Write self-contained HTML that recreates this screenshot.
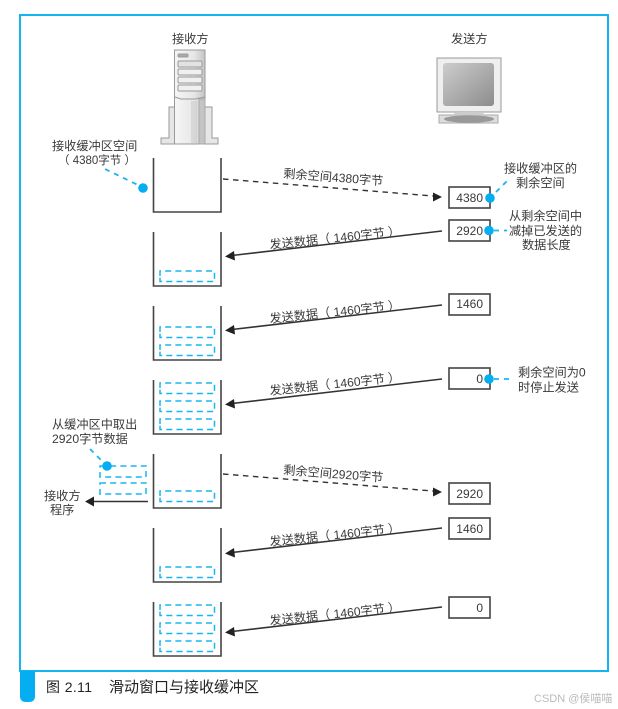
<!DOCTYPE html>
<html><head><meta charset="utf-8"><style>
html,body{margin:0;padding:0;background:#fff;width:618px;height:709px;overflow:hidden}
svg{display:block}
text{font-family:"Liberation Sans","Noto Sans CJK SC",sans-serif;fill:#3a3a3a;font-size:12.2px}
</style></head><body>
<svg width="618" height="709" viewBox="0 0 618 709" xmlns="http://www.w3.org/2000/svg">
<defs>
<linearGradient id="sg" x1="0" y1="0" x2="1" y2="1"><stop offset="0" stop-color="#cdcdcd"/><stop offset="1" stop-color="#8c8c8c"/></linearGradient>
<linearGradient id="tw" x1="0" y1="0" x2="1" y2="0"><stop offset="0" stop-color="#f6f6f6"/><stop offset=".65" stop-color="#e6e6e6"/><stop offset="1" stop-color="#c4c4c4"/></linearGradient>
<g id="bk"><path d="M153.500 0V54H221V0" fill="none" stroke="#444" stroke-width="1.600"/></g>
<g id="d1"><path d="M160 44V39H214.500V49.500H160V44" fill="none" stroke="#19b5f1" stroke-width="1.500" stroke-dasharray="6 4.200"/></g>
<g id="d2"><use href="#d1"/><path d="M160 26V21H214.500V31.500H160V26" fill="none" stroke="#19b5f1" stroke-width="1.500" stroke-dasharray="6 4.200"/></g>
<g id="d3"><use href="#d2"/><path d="M160 8V3H214.500V13.500H160V8" fill="none" stroke="#19b5f1" stroke-width="1.500" stroke-dasharray="6 4.200"/></g>
<g id="box"><rect x="449" y="0" width="41" height="21" fill="#fff" stroke="#444" stroke-width="1.600"/></g>
</defs>

<!-- frame -->
<rect x="20" y="15" width="588" height="656" fill="#fff" stroke="#14b4f0" stroke-width="2"/>
<path d="M20 671H35V696Q35 702 29 702H26Q20 702 20 696Z" fill="#05aef0"/>
<text x="46" y="692" style="font-size:14px;fill:#222;letter-spacing:.4px">图 2.11</text>
<text x="109" y="692" style="font-size:15px;fill:#222">滑动窗口与接收缓冲区</text>
<text x="534" y="702" style="font-size:11px;fill:#bbb">CSDN @侯喵喵</text>

<!-- titles -->
<text x="172" y="43">接收方</text>
<text x="451" y="43">发送方</text>

<!-- server -->
<g stroke="#999" stroke-width="1">
<path d="M169 107H175V144H161V138H169Z" fill="#e6e6e6"/>
<path d="M212 107H205V144H218V138H212Z" fill="#e6e6e6"/>
<rect x="174.500" y="50" width="30.500" height="94" fill="url(#tw)"/>
<path d="M175 97L181 99H195L205 97" fill="none"/>
<rect x="178" y="61" width="24" height="6" rx="1" fill="#e2e2e2"/>
<rect x="178" y="69" width="24" height="6" rx="1" fill="#f0f0f0"/>
<rect x="178" y="77" width="24" height="6" rx="1" fill="#f0f0f0"/>
<rect x="178" y="85" width="24" height="6" rx="1" fill="#f0f0f0"/>
<rect x="178" y="54" width="10" height="3" rx="1" fill="#aaa"/>
<path d="M192 101V144M194 101V144M196 101V144" stroke="#bbb" stroke-width=".7"/>
<rect x="199" y="99" width="6" height="45" fill="#c4c4c4" stroke="#aaa"/>
</g>
<!-- monitor -->
<rect x="437" y="58" width="64" height="54" fill="#efefef" stroke="#999"/>
<rect x="443" y="63" width="51" height="43" rx="3" fill="url(#sg)"/>
<rect x="439" y="115" width="59" height="8" fill="#ddd" stroke="#aaa"/>
<path d="M455 112H483L486 118H452Z" fill="#ccc"/>
<ellipse cx="469" cy="119" rx="25" ry="3.800" fill="#999"/>

<!-- buckets -->
<use href="#bk" y="158"/>
<use href="#bk" y="232"/><use href="#d1" y="232"/>
<use href="#bk" y="306"/><use href="#d2" y="306"/>
<use href="#bk" y="380"/><use href="#d3" y="380"/>
<use href="#bk" y="454"/><use href="#d1" y="452"/>
<use href="#bk" y="528"/><use href="#d1" y="528"/>
<use href="#bk" y="602"/><use href="#d3" y="602"/>

<!-- boxes -->
<use href="#box" y="187"/><use href="#box" y="220"/><use href="#box" y="294"/><use href="#box" y="368"/>
<use href="#box" y="483"/><use href="#box" y="518"/><use href="#box" y="597"/>
<text x="483" y="202" text-anchor="end" style="font-size:12px">4380</text>
<text x="483" y="235" text-anchor="end" style="font-size:12px">2920</text>
<text x="483" y="308" text-anchor="end" style="font-size:12px">1460</text>
<text x="483" y="383" text-anchor="end" style="font-size:12px">0</text>
<text x="483" y="498" text-anchor="end" style="font-size:12px">2920</text>
<text x="483" y="533" text-anchor="end" style="font-size:12px">1460</text>
<text x="483" y="612" text-anchor="end" style="font-size:12px">0</text>

<!-- dashed arrows -->
<g fill="none" stroke="#333" stroke-width="1.400" stroke-dasharray="5.500 4.500">
<line x1="223" y1="179" x2="433" y2="196"/>
<line x1="223" y1="474" x2="433" y2="491"/>
</g>
<path d="M442 197L433 192.500V201.500Z" fill="#222"/>
<path d="M442 492L433 487.500V496.500Z" fill="#222"/>
<text transform="translate(283 177.500) rotate(4.500)">剩余空间4380字节</text>
<text transform="translate(283 474) rotate(4.500)">剩余空间2920字节</text>

<!-- solid arrows -->
<g fill="none" stroke="#333" stroke-width="1.500">
<line x1="232" y1="255.500" x2="442" y2="231"/>
<line x1="232" y1="329.500" x2="442" y2="305"/>
<line x1="232" y1="403.500" x2="442" y2="379"/>
<line x1="232" y1="552.500" x2="442" y2="528"/>
<line x1="232" y1="631.500" x2="442" y2="607"/>
<line x1="91" y1="501.500" x2="148" y2="501.500"/>
</g>
<g fill="#222">
<path d="M225 256.500L234 251L235 260.500Z"/>
<path d="M225 330.500L234 325L235 334.500Z"/>
<path d="M225 404.500L234 399L235 408.500Z"/>
<path d="M225 553.500L234 548L235 557.500Z"/>
<path d="M225 632.500L234 627L235 636.500Z"/>
<path d="M85 501.500L94 496.500V506.500Z"/>
</g>
<text transform="translate(270 249) rotate(-6)">发送数据（ 1460字节 ）</text>
<text transform="translate(270 323) rotate(-6)">发送数据（ 1460字节 ）</text>
<text transform="translate(270 395) rotate(-6)">发送数据（ 1460字节 ）</text>
<text transform="translate(270 546) rotate(-6)">发送数据（ 1460字节 ）</text>
<text transform="translate(270 625) rotate(-6)">发送数据（ 1460字节 ）</text>

<!-- side buffer -->
<g fill="none" stroke="#19b5f1" stroke-width="1.500" stroke-dasharray="6 4.200">
<rect x="100" y="466" width="46" height="11"/>
<rect x="100" y="483" width="46" height="11"/>
</g>

<!-- callouts -->
<g stroke="#19b5f1" stroke-width="1.800" stroke-dasharray="5 5" fill="none">
<line x1="105" y1="169" x2="140" y2="186"/>
<line x1="496" y1="192" x2="508" y2="180"/>
<line x1="494" y1="230.500" x2="507" y2="230.500"/>
<line x1="494" y1="379" x2="514" y2="379"/>
<line x1="90" y1="449" x2="103" y2="462"/>
</g>
<g fill="#05aef0">
<circle cx="143" cy="188" r="4.800"/>
<circle cx="490" cy="198" r="4.800"/>
<circle cx="489" cy="230.500" r="4.800"/>
<circle cx="489" cy="379" r="4.800"/>
<circle cx="107" cy="466" r="4.800"/>
</g>

<!-- notes -->
<text x="52" y="150">接收缓冲区空间</text>
<text x="58" y="164" style="font-size:11.500px">（ 4380字节 ）</text>
<text x="504" y="172.500">接收缓冲区的</text>
<text x="516" y="187">剩余空间</text>
<text x="509" y="220">从剩余空间中</text>
<text x="509" y="235">减掉已发送的</text>
<text x="522" y="249">数据长度</text>
<text x="518" y="376.500">剩余空间为0</text>
<text x="518" y="391.500">时停止发送</text>
<text x="52" y="428.500">从缓冲区中取出</text>
<text x="52" y="443">2920字节数据</text>
<text x="44" y="500">接收方</text>
<text x="50" y="514">程序</text>
</svg>
</body></html>
